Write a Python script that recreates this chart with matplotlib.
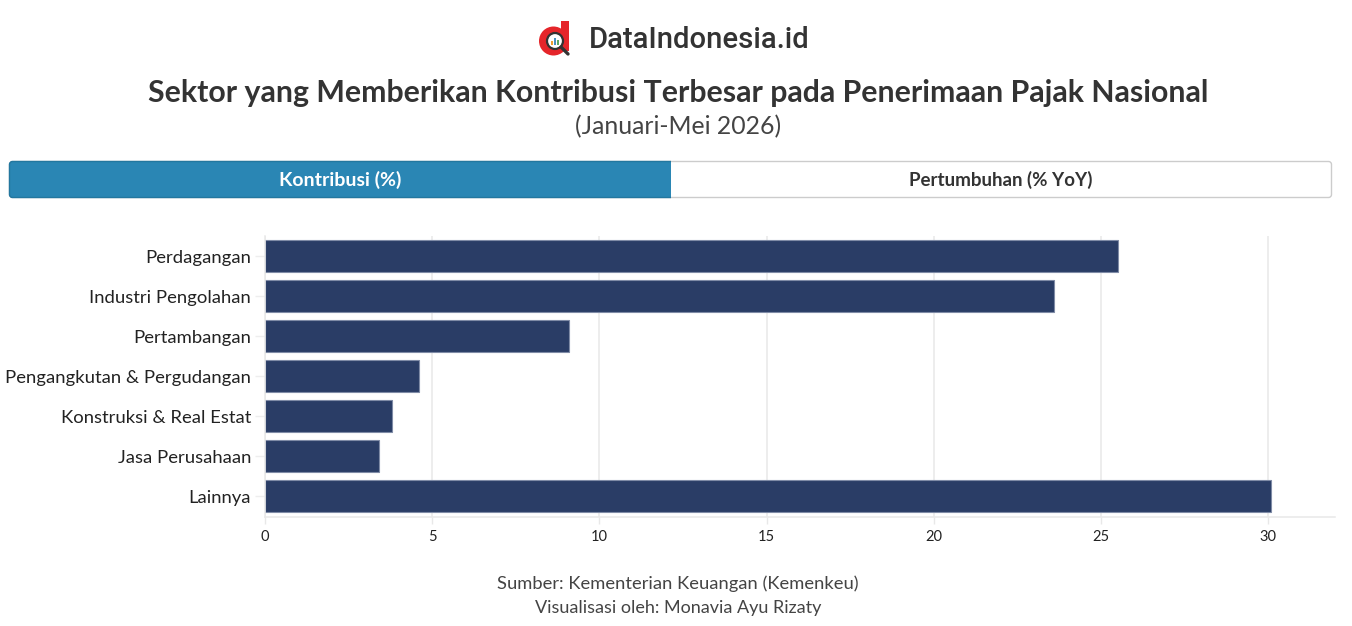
import matplotlib
matplotlib.use("Agg")
import matplotlib.pyplot as plt
from matplotlib.patches import FancyBboxPatch, Rectangle, Circle

plt.rcParams['font.family'] = ['Lato', 'DejaVu Sans']

categories = ["Perdagangan", "Industri Pengolahan", "Pertambangan",
              "Pengangkutan & Pergudangan", "Konstruksi & Real Estat",
              "Jasa Perusahaan", "Lainnya"]
kontribusi = [25.5, 23.6, 9.1, 4.6, 3.8, 3.4, 30.1]
x_ticks = [0, 5, 10, 15, 20, 25, 30]

W, H = 1352, 626
fig = plt.figure(figsize=(W / 100, H / 100), dpi=100, facecolor="white")

# Full-figure overlay in pixel coordinates for header, tabs and footer
bg = fig.add_axes([0, 0, 1, 1], zorder=0)
bg.set_xlim(0, W)
bg.set_ylim(H, 0)
bg.axis("off")

# Logo mark
bg.add_patch(Circle((553.5, 41), 14.5, color="#e5252a", lw=0))
bg.add_patch(Rectangle((561, 21), 8, 30, color="#e5252a", lw=0))
bg.add_patch(Circle((555, 41), 8, facecolor="white", edgecolor="#333333", lw=1.6, zorder=3))
bg.plot([561, 568], [47, 54], color="#333333", lw=2.4, solid_capstyle="round", zorder=3)
bg.add_patch(Rectangle((551, 41), 2, 4, color="#f0a030", lw=0, zorder=4))
bg.add_patch(Rectangle((554, 38), 2, 7, color="#4a90c0", lw=0, zorder=4))
bg.add_patch(Rectangle((557, 40), 2, 5, color="#60a860", lw=0, zorder=4))
bg.text(589, 39.5, "DataIndonesia.id", fontsize=21.1, family="Roboto", fontweight="medium",
        color="#333333", ha="left", va="center")

# Title block
bg.text(678.5, 93, "Sektor yang Memberikan Kontribusi Terbesar pada Penerimaan Pajak Nasional",
        fontsize=21.8, fontweight="bold", color="#333333", ha="center", va="center")
bg.text(678, 127, "(Januari-Mei 2026)", fontsize=17.8, color="#444444", ha="center", va="center")

# Tab selector: the active tab is rounded on its outer side only
bg.add_patch(FancyBboxPatch((9.5, 161.5), 1322, 36, boxstyle="round,pad=0,rounding_size=3",
                            facecolor="white", edgecolor="#cccccc", lw=1))
active = FancyBboxPatch((9.5, 161.5), 680, 36, boxstyle="round,pad=0,rounding_size=3",
                        facecolor="#2a86b4", edgecolor="#23779f", lw=1)
bg.add_patch(active)
active.set_clip_path(Rectangle((8, 160), 663, 39, transform=bg.transData))
bg.text(340.5, 179.5, "Kontribusi (%)", fontsize=14, fontweight="bold", color="white",
        ha="center", va="center")
bg.text(1001, 179.5, "Pertumbuhan (% YoY)", fontsize=13.5, fontweight="bold", color="#333333",
        ha="center", va="center")

# Footer
bg.text(678, 584, "Sumber: Kementerian Keuangan (Kemenkeu)", fontsize=13.2, color="#444444",
        ha="center", va="center")
bg.text(678, 607.5, "Visualisasi oleh: Monavia Ayu Rizaty", fontsize=13.0, color="#444444",
        ha="center", va="center")

# Bar chart
left, right, top, bottom = 265, 1335, 236, 516.5
ax = fig.add_axes([left / W, 1 - bottom / H, (right - left) / W, (bottom - top) / H], zorder=1)
ax.patch.set_alpha(0)
y = list(range(len(categories)))
ax.barh(y, kontribusi, height=0.8, color="#2a3d66", edgecolor="#7f8ba6", linewidth=0.8, zorder=2)
ax.set_ylim(len(categories) - 0.5, -0.5)
ax.set_xlim(0, (right - left) / ((1268 - 265) / 30))
ax.set_xticks(x_ticks)
ax.set_yticks(y)
ax.set_yticklabels(categories, fontsize=13.3, color="#222222")
ax.tick_params(axis="y", length=7, width=1, color="#eeeeee", pad=3)
ax.tick_params(axis="x", length=5, width=1, color="#e8e8e8", labelsize=10.5, labelcolor="#222222", pad=5)
ax.grid(axis="x", color="#e8e8e8", lw=1.1, zorder=1)
ax.set_axisbelow(True)
for s in ("top", "right"):
    ax.spines[s].set_visible(False)
for s in ("left", "bottom"):
    ax.spines[s].set_color("#e8e8e8")
    ax.spines[s].set_linewidth(1.1)

fig.savefig("out.png", dpi=100, facecolor="white")
